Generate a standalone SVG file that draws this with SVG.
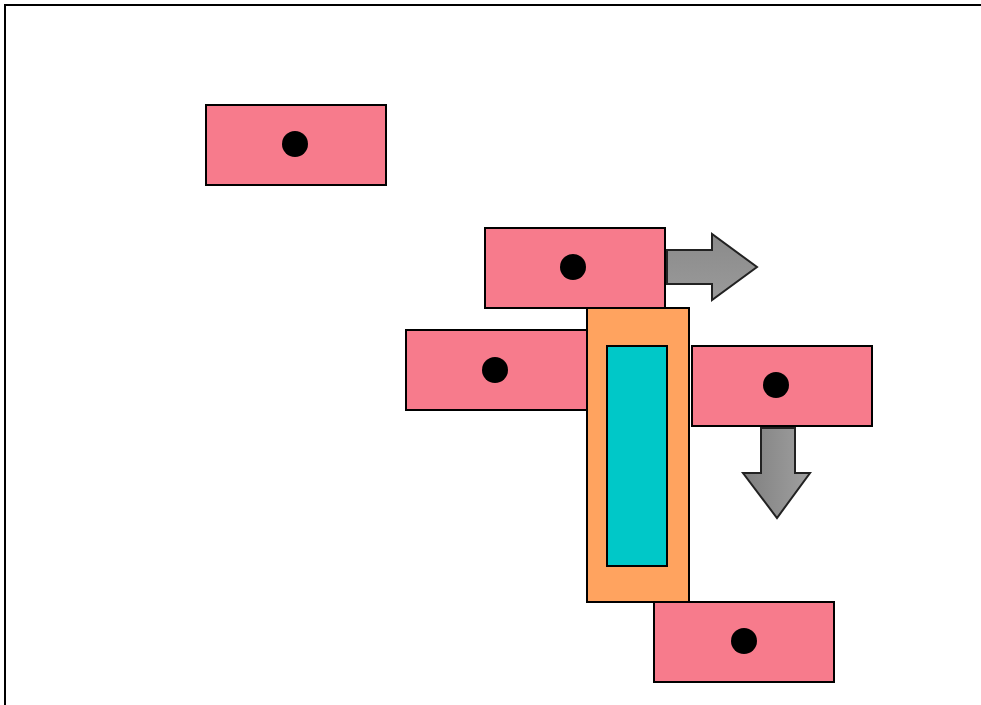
<svg xmlns="http://www.w3.org/2000/svg" width="981" height="705" viewBox="0 0 981 705">
<style>
.box{fill:#f77b8c;stroke:#000;stroke-width:2}
.dot{fill:#000}
.arrow{stroke:#222;stroke-width:2;stroke-linejoin:miter}
</style>
<defs>
<linearGradient id="gr" x1="0" y1="0" x2="0" y2="1"><stop offset="0" stop-color="#8a8a8a"/><stop offset="1" stop-color="#9a9a9a"/></linearGradient>
<linearGradient id="gd" x1="0" y1="0" x2="1" y2="0"><stop offset="0" stop-color="#7f7f7f"/><stop offset="1" stop-color="#a0a0a0"/></linearGradient>
</defs>
<rect x="0" y="0" width="981" height="705" fill="#fff"/>
<path d="M5,706 V5 H982" fill="none" stroke="#000" stroke-width="2"/>
<g id="n1"><rect class="box" x="206" y="105" width="180" height="80"/><circle class="dot" cx="295" cy="144" r="13"/></g>
<g id="n2"><rect class="box" x="485" y="228" width="180" height="80"/><circle class="dot" cx="573" cy="267" r="13"/></g>
<g id="n3"><rect class="box" x="406" y="330" width="181" height="80"/><circle class="dot" cx="495" cy="370" r="13"/></g>
<g id="frame"><rect x="587" y="308" width="102" height="294" fill="#ffa35f" stroke="#000" stroke-width="2"/><rect x="607" y="346" width="60" height="220" fill="#00c8c8" stroke="#000" stroke-width="2"/></g>
<g id="n4"><rect class="box" x="692" y="346" width="180" height="80"/><circle class="dot" cx="776" cy="385" r="13"/></g>
<g id="n5"><rect class="box" x="654" y="602" width="180" height="80"/><circle class="dot" cx="744" cy="641" r="13"/></g>
<g id="connectors">
<path class="arrow" fill="url(#gr)" d="M667,250 H712 V234 L757,267 L712,300 V284 H667 Z"/>
<path class="arrow" fill="url(#gd)" d="M761,428 H795 V473 H810 L777,518 L743,473 H761 Z"/>
</g>
</svg>
